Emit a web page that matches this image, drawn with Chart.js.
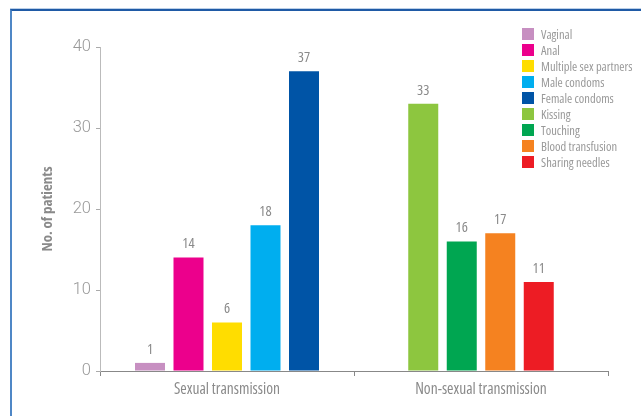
<!DOCTYPE html>
<html>
<head>
<meta charset="utf-8">
<script src="https://cdn.jsdelivr.net/npm/chart.js@4"></script>
<style>
  body { margin: 0; background: #fff; overflow: hidden; }
  #wrap { position: relative; width: 641px; height: 416px; }
  #frame {
    position: absolute; left: 10px; top: 9px; width: 700px; height: 500px;
    border-top: 2px solid #1f5aa6; border-left: 2px solid #4f87c6;
    box-shadow: 0 -1px 0 #bcd0e8;
  }
  canvas { position: absolute; left: 0; top: 0; }
</style>
</head>
<body>
<div id="wrap">
  <div id="frame"></div>
  <canvas id="myBarChart" width="641" height="416"></canvas>
</div>
<script>
// カテゴリとデータ
const categories = ['Sexual transmission', 'Non-sexual transmission'];
const sexualNames = ['Vaginal', 'Anal', 'Multiple sex partners', 'Male condoms', 'Female condoms'];
const sexualValues = [1, 14, 6, 18, 37];
const nonSexualNames = ['Kissing', 'Touching', 'Blood transfusion', 'Sharing needles'];
const nonSexualValues = [33, 16, 17, 11];
const seriesColors = [
  '#c78fc1', '#ec008c', '#ffdd00', '#00aeef', '#0054a6',
  '#8dc63f', '#00a651', '#f58220', '#ed1c24'
];
const yTicks = [0, 10, 20, 30, 40];

// 細い書体（Open Sans の condensed）
const narrow = "'Open Sans', sans-serif";
const textGray = '#8a8a8a';

// データセットを作る（片方のカテゴリはnull）
const datasets = [];
sexualNames.forEach(function (name, i) {
  datasets.push({
    label: name,
    data: [sexualValues[i], null],
    backgroundColor: seriesColors[i],
    categoryPercentage: 5 * 38.5 / 254,
    barPercentage: 30 / 38.5,
    skipNull: true
  });
});
nonSexualNames.forEach(function (name, i) {
  datasets.push({
    label: name,
    data: [null, nonSexualValues[i]],
    backgroundColor: seriesColors[5 + i],
    categoryPercentage: 4 * 38.5 / 254,
    barPercentage: 30 / 38.5,
    skipNull: true
  });
});

// 棒の上に値を書く
const valueLabels = {
  id: 'valueLabels',
  afterDatasetsDraw: function (chart) {
    const ctx = chart.ctx;
    ctx.save();
    ctx.font = 'condensed 14.5px ' + narrow;
    ctx.fillStyle = textGray;
    ctx.textAlign = 'center';
    ctx.textBaseline = 'bottom';
    chart.data.datasets.forEach(function (ds, di) {
      const meta = chart.getDatasetMeta(di);
      meta.data.forEach(function (bar, i) {
        const v = ds.data[i];
        if (v === null || v === undefined) return;
        ctx.fillText(String(v), bar.x, bar.y - 6);
      });
    });
    ctx.restore();
  }
};

// 右上の凡例（縦並び、グラフに重ねる）
const boxLegend = {
  id: 'boxLegend',
  afterDraw: function (chart) {
    const ctx = chart.ctx;
    ctx.save();
    ctx.font = 'condensed 12.5px ' + narrow;
    ctx.textBaseline = 'middle';
    ctx.textAlign = 'left';
    chart.data.datasets.forEach(function (ds, i) {
      const y = 34 + i * 16;
      ctx.fillStyle = ds.backgroundColor;
      ctx.fillRect(522, y - 6, 12, 12);
      ctx.fillStyle = '#999';
      ctx.fillText(ds.label, 541, y + 1);
    });
    ctx.restore();
  }
};

const ctx = document.getElementById('myBarChart').getContext('2d');
const myBarChart = new Chart(ctx, {
  type: 'bar',
  data: { labels: categories, datasets: datasets },
  plugins: [valueLabels, boxLegend],
  options: {
    responsive: false,
    animation: false,
    layout: { padding: { left: 35, top: 47, right: 33, bottom: 0 } },
    plugins: {
      legend: { display: false },
      tooltip: { enabled: false }
    },
    scales: {
      x: {
        afterFit: function (s) { s.height = 45; },
        grid: { drawOnChartArea: false, drawTicks: true, tickLength: 5, color: '#888' },
        border: { color: '#888', width: 1 },
        ticks: { color: textGray, font: { family: narrow, size: 15.5, weight: 'condensed' }, padding: 4 }
      },
      y: {
        min: 0,
        max: 40,
        afterFit: function (s) { s.width = 65; },
        afterBuildTicks: function (s) { s.ticks = yTicks.map(function (v) { return { value: v }; }); },
        grid: { drawOnChartArea: false, drawTicks: true, tickLength: 4, color: '#aaa' },
        border: { color: '#bbb', width: 1 },
        ticks: { color: '#999', font: { family: "Roboto, 'Liberation Sans', sans-serif", size: 16.5, weight: '300' }, padding: 5 },
        title: {
          display: true,
          text: 'No. of patients',
          color: textGray,
          font: { family: narrow, size: 15, weight: 'bold condensed' },
          padding: { top: 4, bottom: 4 }
        }
      }
    }
  }
});
</script>
</body>
</html>
